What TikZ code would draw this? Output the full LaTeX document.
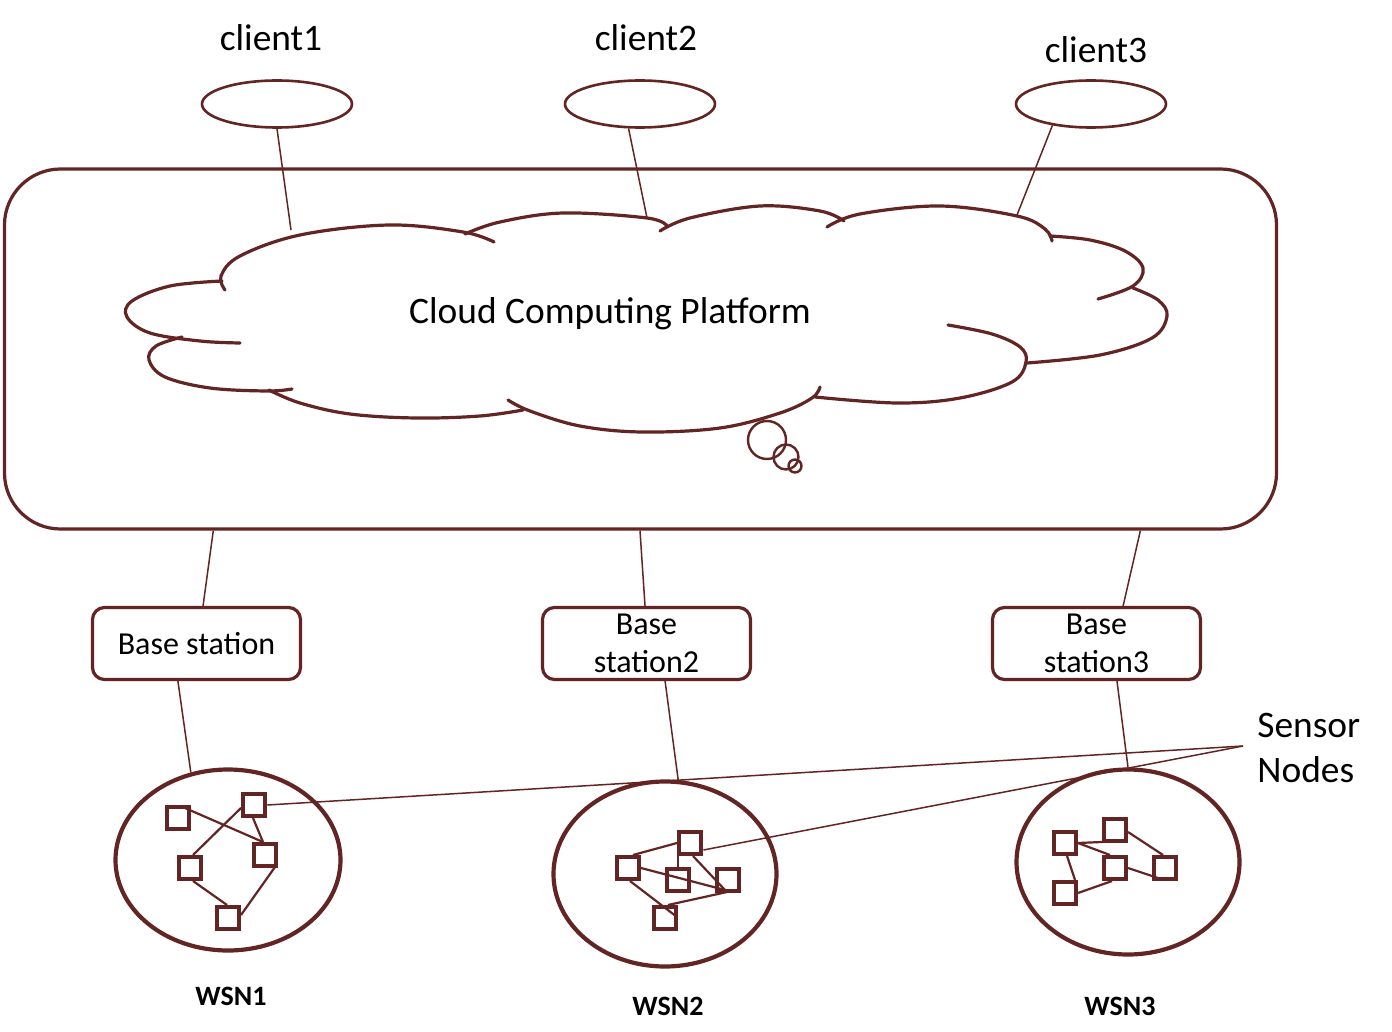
\documentclass[tikz,border=0pt]{standalone}
\usepackage{fontspec}
\setmainfont{Carlito}
\usetikzlibrary{shapes.geometric,calc}
\definecolor{wsnred}{RGB}{99,37,35}
\begin{document}
\begin{tikzpicture}[x=0.5pt,y=-0.5pt,
  clientell/.style={ellipse, draw=wsnred, line width=1.3pt, minimum width=75pt, minimum height=23.5pt, inner sep=0pt},
  bsbox/.style={rectangle, rounded corners=6pt, draw=wsnred, line width=1.6pt, minimum width=104pt, minimum height=36pt, inner sep=0pt, align=center, font=\fontsize{16}{19}\selectfont},
  wsnell/.style={ellipse, draw=wsnred, line width=2.1pt, inner sep=0pt},
  sensorsq/.style={rectangle, draw=wsnred, line width=2.4pt, minimum size=11pt, inner sep=0pt},
  conn/.style={draw=wsnred, line width=0.75pt},
  wedge/.style={draw=wsnred, line width=1.1pt},
  lbl/.style={font=\fontsize{18.7}{22.5}\selectfont, inner sep=0pt},
  wsnlbl/.style={font=\bfseries\fontsize{14}{17}\selectfont, inner sep=0pt},
  lobe/.style={draw=wsnred, line width=1.6pt, line cap=round}
]
\useasboundingbox[fill=white] (0,0) rectangle (1392,1032);

% platform
\node[draw=wsnred, rounded corners=28pt, line width=1.6pt, minimum width=636pt, minimum height=180pt, inner sep=0pt] (platform) at (640.5,349) {};

% cloud lobes
\draw[lobe] plot[smooth, tension=0.6] coordinates {(225,290) (221,276) (240,256) (300,235) (389,225) (463,232) (494,242)};
\draw[lobe] plot[smooth, tension=0.6] coordinates {(465,234) (500,222) (563,213) (647,218) (667,226)};
\draw[lobe] plot[smooth, tension=0.6] coordinates {(660,231) (690,218) (760,206) (820,211) (844,221)};
\draw[lobe] plot[smooth, tension=0.6] coordinates {(827,227) (860,214) (940,206) (1017,216) (1045,229) (1052,241)};
\draw[lobe] plot[smooth, tension=0.6] coordinates {(1050,236) (1090,240) (1125,251) (1143,268) (1133,286) (1098,299)};
\draw[lobe] plot[smooth, tension=0.6] coordinates {(1133,288) (1158,300) (1167,316) (1152,338) (1100,355) (1027,363)};
\draw[lobe] plot[smooth, tension=0.6] coordinates {(948,325) (992,334) (1020,347) (1026,362) (1012,382) (960,398) (897,403) (815,397)};
\draw[lobe] plot[smooth, tension=0.6] coordinates {(820,387) (812,398) (780,413) (720,428) (642,432) (580,426) (530,411) (508,400)};
\draw[lobe] plot[smooth, tension=0.6] coordinates {(269,390) (300,403) (350,414) (416,418) (480,416) (523,410)};
\draw[lobe] plot[smooth, tension=0.6] coordinates {(182,337) (156,346) (149,360) (165,377) (210,388) (267,391) (292,389)};
\draw[lobe] plot[smooth, tension=0.6] coordinates {(222,281) (170,286) (132,301) (127,317) (150,333) (200,341) (240,343)};

\node[lbl] (cloudtxt) at (610,314) {Cloud Computing Platform};

% thought bubbles
\node[circle, draw=wsnred, line width=1.2pt, minimum size=19pt, inner sep=0pt] (bub1) at (767,440) {};
\node[circle, draw=wsnred, line width=1.2pt, minimum size=12.5pt, inner sep=0pt] (bub2) at (786,457) {};
\node[circle, draw=wsnred, line width=1.2pt, minimum size=6.5pt, inner sep=0pt] (bub3) at (795,466) {};

% clients
\node[clientell] (client1) at (277,104) {};
\node[clientell] (client2) at (640,104) {};
\node[clientell] (client3) at (1091,104) {};
\node[lbl] (client1lbl) at (271,38) {client1};
\node[lbl] (client2lbl) at (646,38) {client2};
\node[lbl] (client3lbl) at (1096,50) {client3};

\coordinate (cl1end) at (291,230);
\coordinate (cl2end) at (647,218);
\coordinate (cl3end) at (1017,215);
\draw[conn] (client1.south) -- (cl1end);
\draw[conn] (client2.245) -- (cl2end);
\draw[conn] (client3.209) -- (cl3end);

% base stations
\node[bsbox] (bs1) at (196.5,643.5) {Base station};
\node[bsbox] (bs2) at (646.5,643.5) {Base\\station2};
\node[bsbox] (bs3) at (1096.5,643.5) {Base\\station3};

\draw[conn] ($(platform.south west)!0.165!(platform.south east)$) -- ($(bs1.north west)!0.531!(bs1.north east)$);
\draw[conn] ($(platform.south west)!0.4996!(platform.south east)$) -- ($(bs2.north west)!0.493!(bs2.north east)$);
\draw[conn] ($(platform.south west)!0.892!(platform.south east)$) -- ($(bs3.north west)!0.626!(bs3.north east)$);

% WSN clusters
\node[wsnell, minimum width=112.5pt, minimum height=90.5pt] (wsn1) at (228,860) {};
\node[wsnell, minimum width=111.5pt, minimum height=92.5pt] (wsn2) at (665,874) {};
\node[wsnell, minimum width=111.5pt, minimum height=92.5pt] (wsn3) at (1128,862) {};

\draw[conn] ($(bs1.south west)!0.412!(bs1.south east)$) -- (wsn1.113);
\draw[conn] ($(bs2.south west)!0.588!(bs2.south east)$) -- (wsn2.82);
\draw[conn] ($(bs3.south west)!0.597!(bs3.south east)$) -- (wsn3.north);

\node[wsnlbl] (wsn1lbl) at (231,996) {WSN1};
\node[wsnlbl] (wsn2lbl) at (668,1006) {WSN2};
\node[wsnlbl] (wsn3lbl) at (1120,1006) {WSN3};

% WSN1 sensors
\node[sensorsq] (A) at (178,818) {};
\node[sensorsq] (B) at (254,805) {};
\node[sensorsq] (C) at (265,855) {};
\node[sensorsq] (D) at (190,868) {};
\node[sensorsq] (E) at (228,918) {};
\draw[wedge] ($(A)+(7,-10)$) -- ($(C)+(-2,-13)$);
\draw[wedge] ($(B)+(-13,3)$) -- ($(D)+(3,-13)$);
\draw[wedge] ($(B)+(-1,13)$) -- ($(C)+(-2,-13)$);
\draw[wedge] ($(D)+(3,13)$) -- ($(E)+(-1,-13)$);
\draw[wedge] ($(C)+(10,12)$) -- ($(E)+(13,-3)$);

% WSN2 sensors
\node[sensorsq] (P) at (628,868) {};
\node[sensorsq] (Q) at (690,843) {};
\node[sensorsq] (R) at (678,880) {};
\node[sensorsq] (S) at (728,880) {};
\node[sensorsq] (T) at (665,918) {};
\draw[wedge] ($(P)+(5,-13)$) -- ($(Q)+(-13,0)$);
\draw[wedge] ($(Q)+(-12,13)$) -- ($(R)+(0,-13)$);
\draw[wedge] ($(Q)+(3,13)$) -- ($(S)+(-3,10)$);
\draw[wedge] ($(P)+(13,0)$) -- ($(S)+(-3,10)$);
\draw[wedge] ($(P)+(2,13)$) -- ($(T)+(12,-1)$);
\draw[wedge] ($(T)+(3,-13)$) -- ($(S)+(-1,12)$);

% WSN3 sensors
\node[sensorsq] (U) at (1065,843) {};
\node[sensorsq] (V) at (1115,830) {};
\node[sensorsq] (W) at (1115,868) {};
\node[sensorsq] (X) at (1165,868) {};
\node[sensorsq] (Y) at (1065,893) {};
\draw[wedge] ($(U)+(13,0)$) -- ($(V)+(-13,12)$);
\draw[wedge] ($(U)+(13,0)$) -- ($(W)+(-5,-13)$);
\draw[wedge] ($(V)+(13,2)$) -- ($(X)+(-2,-13)$);
\draw[wedge] ($(W)+(13,0)$) -- ($(X)+(-7,10)$);
\draw[wedge] ($(U)+(2,13)$) -- ($(Y)+(10,-13)$);
\draw[wedge] ($(Y)+(13,0)$) -- ($(W)+(-3,13)$);

% Sensor Nodes callout
\node[lbl, anchor=west, align=left] (senslbl) at (1257,748) {Sensor\\Nodes};
\coordinate (sensapex) at (1243,746);
\draw[conn] (sensapex) -- (B.east);
\draw[conn] (sensapex) -- ($(Q.east)+(0,7)$);
\end{tikzpicture}
\end{document}
